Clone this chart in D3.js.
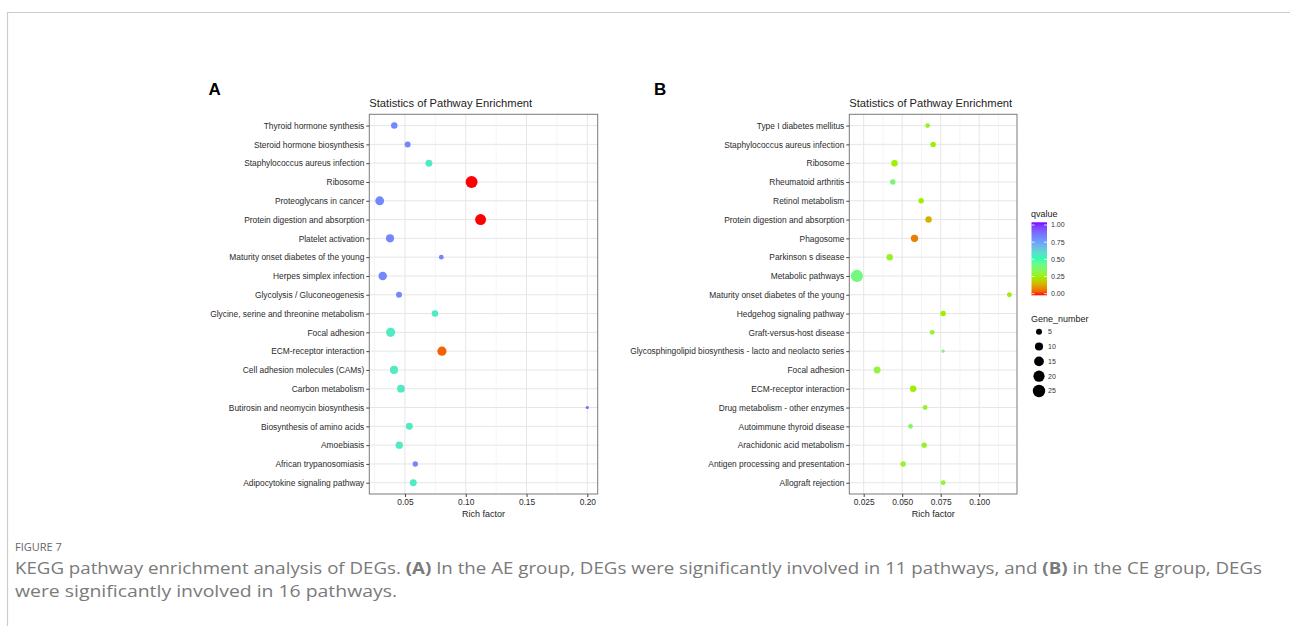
<!DOCTYPE html>
<html>
<head>
<meta charset="utf-8">
<script src="https://cdn.jsdelivr.net/npm/d3@7"></script>
<style>
  body { margin: 0; background: #fff; }
  svg { display: block; }
</style>
</head>
<body>
<svg id="fig" width="1290" height="626"></svg>
<script>
// panel A - AE group (top to bottom as shown)
const pathwaysA = [
  "Thyroid hormone synthesis", "Steroid hormone biosynthesis", "Staphylococcus aureus infection",
  "Ribosome", "Proteoglycans in cancer", "Protein digestion and absorption", "Platelet activation",
  "Maturity onset diabetes of the young", "Herpes simplex infection", "Glycolysis / Gluconeogenesis",
  "Glycine, serine and threonine metabolism", "Focal adhesion", "ECM-receptor interaction",
  "Cell adhesion molecules (CAMs)", "Carbon metabolism", "Butirosin and neomycin biosynthesis",
  "Biosynthesis of amino acids", "Amoebiasis", "African trypanosomiasis", "Adipocytokine signaling pathway"
];
const richA  = [0.0412, 0.0522, 0.0697, 0.1048, 0.0292, 0.1122, 0.0377, 0.0799, 0.0317, 0.0451,
                0.0747, 0.0382, 0.0804, 0.0410, 0.0467, 0.2000, 0.0536, 0.0453, 0.0585, 0.0568];
const qvalA  = [0.79, 0.79, 0.55, 0.0, 0.79, 0.0, 0.79, 0.79, 0.79, 0.79,
                0.55, 0.55, 0.05, 0.55, 0.55, 0.86, 0.55, 0.55, 0.79, 0.55];
const genesA = [6, 5, 7, 23, 12, 19, 10, 3, 11, 5, 6, 13, 13, 10, 9, 1, 7, 8, 4, 7];
const ticksA = [0.05, 0.10, 0.15, 0.20];

// panel B - CE group
const pathwaysB = [
  "Type I diabetes mellitus", "Staphylococcus aureus infection", "Ribosome", "Rheumatoid arthritis",
  "Retinol metabolism", "Protein digestion and absorption", "Phagosome", "Parkinson s disease",
  "Metabolic pathways", "Maturity onset diabetes of the young", "Hedgehog signaling pathway",
  "Graft-versus-host disease", "Glycosphingolipid biosynthesis - lacto and neolacto series",
  "Focal adhesion", "ECM-receptor interaction", "Drug metabolism - other enzymes",
  "Autoimmune thyroid disease", "Arachidonic acid metabolism", "Antigen processing and presentation",
  "Allograft rejection"
];
const richB  = [0.0665, 0.0701, 0.0450, 0.0439, 0.0623, 0.0671, 0.0580, 0.0419, 0.0206, 0.1196,
                0.0766, 0.0695, 0.0766, 0.0337, 0.0571, 0.0649, 0.0554, 0.0643, 0.0506, 0.0766];
const qvalB  = [0.27, 0.25, 0.25, 0.38, 0.25, 0.15, 0.08, 0.27, 0.40, 0.25,
                0.25, 0.28, 0.38, 0.30, 0.25, 0.28, 0.35, 0.27, 0.28, 0.28];
const genesB = [3, 4, 6, 4, 4, 6, 8, 6, 24, 3, 4, 3, 1, 7, 6, 3, 3, 4, 4, 3];
const ticksB = [0.025, 0.050, 0.075, 0.100];

const qBreaks = [0, 0.25, 0.5, 0.75, 1];
const sizeBreaks = [5, 10, 15, 20, 25];

const svg = d3.select("#fig");
const FONT = "Liberation Sans, Arial, Helvetica, sans-serif";

// page frame lines
svg.append("line").attr("x1", 7).attr("x2", 1290).attr("y1", 12.5).attr("y2", 12.5)
  .attr("stroke", "#cccccc").attr("stroke-width", 1.2);
svg.append("line").attr("x1", 7.5).attr("x2", 7.5).attr("y1", 12).attr("y2", 626)
  .attr("stroke", "#cccccc").attr("stroke-width", 1.2);

const color = d3.scaleLinear()
  .domain(qBreaks)
  .range(["#ff0000", "#9cf000", "#30ffb0", "#6c98ff", "#8000ff"])
  .interpolate(d3.interpolateLab);

const size = d3.scalePow().exponent(0.5).domain([5, 25]).range([3, 6.2]);

let drawPanel = (letter, letterX, left, right, cats, rich, qv, genes, ticks, fmt) => {
  const top = 114.3, bottom = 494;
  const ext = d3.extent(rich), pad = (ext[1] - ext[0]) * 0.05;
  const x = d3.scaleLinear().domain([ext[0] - pad, ext[1] + pad]).range([left, right]);
  const y = d3.scalePoint().domain(cats).range([top, bottom]).padding(0.6);

  const g = svg.append("g");

  // minor grid (midpoints between ticks)
  const step = ticks[1] - ticks[0];
  const minors = d3.range(ticks[0] - step / 2, ticks[ticks.length - 1] + step, step)
    .filter(v => x(v) > left && x(v) < right);
  g.selectAll(".minor").data(minors).enter().append("line")
    .attr("x1", d => x(d)).attr("x2", d => x(d)).attr("y1", top).attr("y2", bottom)
    .attr("stroke", "#f2f2f2").attr("stroke-width", 0.8);
  g.selectAll(".majx").data(ticks).enter().append("line")
    .attr("x1", d => x(d)).attr("x2", d => x(d)).attr("y1", top).attr("y2", bottom)
    .attr("stroke", "#e6e6e6").attr("stroke-width", 1);
  g.selectAll(".majy").data(cats).enter().append("line")
    .attr("x1", left).attr("x2", right).attr("y1", d => y(d)).attr("y2", d => y(d))
    .attr("stroke", "#e6e6e6").attr("stroke-width", 1);

  // points
  g.selectAll(".pt").data(cats).enter().append("circle")
    .attr("cx", (d, i) => x(rich[i]))
    .attr("cy", d => y(d))
    .attr("r", (d, i) => size(genes[i]))
    .attr("fill", (d, i) => color(qv[i]));

  // border
  g.append("rect").attr("x", left).attr("y", top).attr("width", right - left).attr("height", bottom - top)
    .attr("fill", "none").attr("stroke", "#7a7a7a").attr("stroke-width", 1);

  // axes
  const ay = g.append("g").attr("transform", `translate(${left},0)`)
    .call(d3.axisLeft(y).tickSize(3).tickPadding(2));
  const ax = g.append("g").attr("transform", `translate(0,${bottom})`)
    .call(d3.axisBottom(x).tickValues(ticks).tickFormat(fmt).tickSize(3).tickPadding(2));
  [ax, ay].forEach(a => {
    a.select(".domain").remove();
    a.selectAll(".tick line").attr("stroke", "#444");
    a.selectAll("text").attr("fill", "#2b2b2b").style("font-family", FONT).style("font-size", "8.4px");
  });

  g.append("text").attr("x", (left + right) / 2).attr("y", 517)
    .attr("text-anchor", "middle").attr("fill", "#222")
    .style("font-family", FONT).style("font-size", "9px").text("Rich factor");

  g.append("text").attr("x", left).attr("y", 106.5)
    .attr("fill", "#222").style("font-family", FONT).style("font-size", "11.2px")
    .text("Statistics of Pathway Enrichment");

  svg.append("text").attr("x", letterX).attr("y", 94.5)
    .attr("fill", "#000").style("font-family", FONT).style("font-weight", "bold")
    .style("font-size", "17px").text(letter);
};

drawPanel("A", 208.5, 369.3, 597.7, pathwaysA, richA, qvalA, genesA, ticksA, d3.format(".2f"));
drawPanel("B", 654, 849.3, 1017, pathwaysB, richB, qvalB, genesB, ticksB, d3.format(".3f"));

// legend: qvalue colour bar
const leg = svg.append("g");
leg.append("text").attr("x", 1031).attr("y", 217).attr("fill", "#222")
  .style("font-family", FONT).style("font-size", "9px").text("qvalue");
const barY = d3.scaleLinear().domain([0, 1]).range([293.7, 225]);
const defs = svg.append("defs");
const grad = defs.append("linearGradient").attr("id", "qgrad")
  .attr("x1", 0).attr("x2", 0).attr("y1", 1).attr("y2", 0);
d3.range(0, 1.0001, 0.05).forEach(v => {
  grad.append("stop").attr("offset", v).attr("stop-color", color(v));
});
leg.append("rect").attr("x", 1031.5).attr("y", 222.3).attr("width", 15.5).attr("height", 73)
  .attr("fill", "url(#qgrad)");
leg.selectAll(".qt").data(qBreaks).enter().append("g").each(function (d) {
  const s = d3.select(this);
  s.append("line").attr("x1", 1031.5).attr("x2", 1034.5).attr("y1", barY(d)).attr("y2", barY(d))
    .attr("stroke", "#fff").attr("stroke-width", 0.8);
  s.append("line").attr("x1", 1044).attr("x2", 1047).attr("y1", barY(d)).attr("y2", barY(d))
    .attr("stroke", "#fff").attr("stroke-width", 0.8);
  s.append("text").attr("x", 1051).attr("y", barY(d)).attr("dy", "0.35em").attr("fill", "#333")
    .style("font-family", FONT).style("font-size", "7px").text(d3.format(".2f")(d));
});

// legend: gene number
leg.append("text").attr("x", 1031).attr("y", 321.5).attr("fill", "#222")
  .style("font-family", FONT).style("font-size", "9px").text("Gene_number");
const sizeY = d3.scalePoint().domain(sizeBreaks).range([331.7, 391]);
leg.selectAll(".sz").data(sizeBreaks).enter().append("circle")
  .attr("cx", 1039).attr("cy", d => sizeY(d)).attr("r", d => size(d)).attr("fill", "#000");
leg.selectAll(".szt").data(sizeBreaks).enter().append("text")
  .attr("x", 1048).attr("y", d => sizeY(d)).attr("dy", "0.35em").attr("fill", "#333")
  .style("font-family", FONT).style("font-size", "7px").text(d => d);

// caption
const CAP = "'Open Sans', 'Noto Sans', sans-serif";
svg.append("text").attr("x", 15).attr("y", 550.5).attr("fill", "#666")
  .style("font-family", CAP).style("font-size", "11px").text("FIGURE 7");
const line1 = svg.append("text").attr("x", 15).attr("y", 573.5).attr("fill", "#7a7a7a")
  .style("font-family", CAP).style("font-size", "16px")
  .attr("textLength", 1247).attr("lengthAdjust", "spacingAndGlyphs");
[["KEGG pathway enrichment analysis of DEGs. ", false], ["(A)", true],
 [" In the AE group, DEGs were significantly involved in 11 pathways, and ", false], ["(B)", true],
 [" in the CE group, DEGs", false]].forEach(([t, b]) => {
  line1.append("tspan").style("font-weight", b ? "bold" : "normal").text(t);
});
svg.append("text").attr("x", 15).attr("y", 596.5).attr("fill", "#7a7a7a")
  .style("font-family", CAP).style("font-size", "16px")
  .attr("textLength", 382).attr("lengthAdjust", "spacingAndGlyphs")
  .text("were significantly involved in 16 pathways.");
</script>
</body>
</html>
